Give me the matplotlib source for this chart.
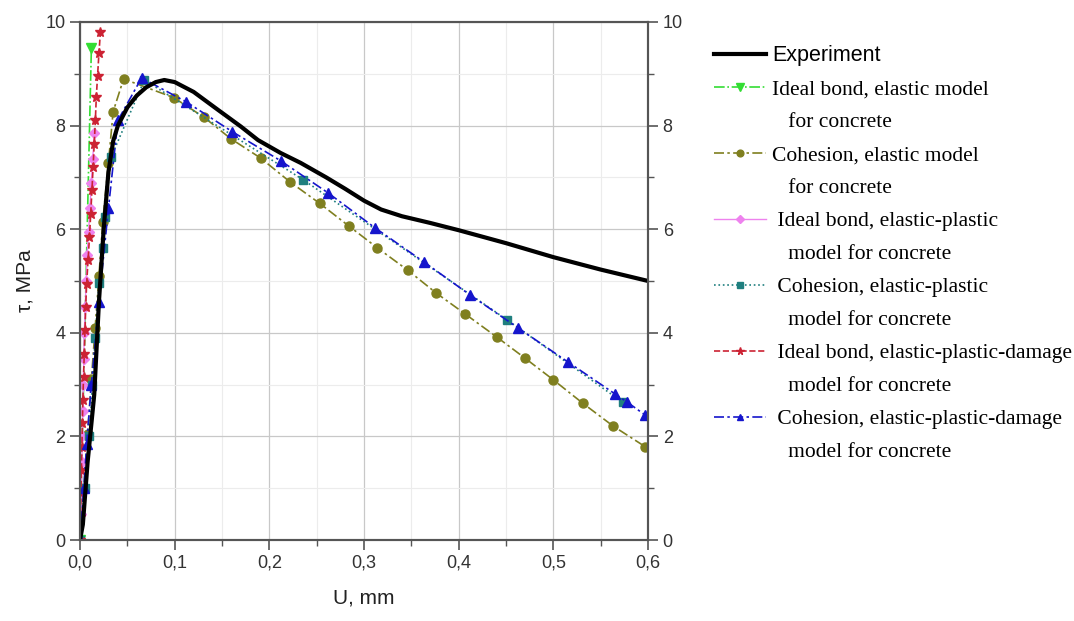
import matplotlib.pyplot as plt
from matplotlib.lines import Line2D
from matplotlib.ticker import MultipleLocator

plt.rcParams['font.family'] = ['Liberation Sans', 'DejaVu Sans']

# Experiment
u_exp = [0, 0.003, 0.008, 0.015, 0.02, 0.025, 0.03, 0.035, 0.04, 0.05, 0.06, 0.07, 0.08, 0.089,
         0.1, 0.12, 0.146, 0.17, 0.188, 0.212, 0.233, 0.26, 0.28, 0.3, 0.318, 0.34, 0.37, 0.4,
         0.45, 0.5, 0.55, 0.6]
t_exp = [0, 0.3, 1.5, 2.8, 4.6, 6.0, 7.1, 7.7, 8.0, 8.35, 8.58, 8.74, 8.84, 8.88,
         8.84, 8.65, 8.3, 7.98, 7.72, 7.47, 7.28, 7.0, 6.78, 6.55, 6.38, 6.25, 6.12, 5.98,
         5.73, 5.46, 5.22, 5.0]

# Ideal bond, elastic
u_ib_el = [0, 0.012]
t_ib_el = [0, 9.5]

# Cohesion, elastic
u_co_el = [0, 0.004, 0.008, 0.012, 0.016, 0.020, 0.024, 0.030, 0.035, 0.046, 0.099, 0.131, 0.159,
           0.191, 0.222, 0.253, 0.284, 0.314, 0.346, 0.376, 0.407, 0.44, 0.47, 0.5, 0.531, 0.563, 0.597]
t_co_el = [0, 1.0, 2.05, 3.1, 4.1, 5.1, 6.14, 7.28, 8.27, 8.9, 8.54, 8.16, 7.75,
           7.37, 6.91, 6.5, 6.06, 5.64, 5.21, 4.77, 4.36, 3.92, 3.51, 3.09, 2.64, 2.2, 1.8]

# Ideal bond, elastic-plastic
u_ib_pl = [0, 0.0008, 0.0015, 0.002, 0.0025, 0.003, 0.0035, 0.004, 0.0045, 0.0055, 0.0065,
           0.0075, 0.009, 0.0105, 0.012, 0.0135, 0.015]
t_ib_pl = [0, 0.5, 1.0, 1.5, 2.0, 2.5, 3.0, 3.5, 4.0, 4.5, 5.0, 5.5, 5.95, 6.4, 6.9, 7.35, 7.85]

# Cohesion, elastic-plastic
u_co_pl = [0, 0.005, 0.01, 0.013, 0.016, 0.02, 0.024, 0.026, 0.033, 0.068, 0.236, 0.451, 0.573]
t_co_pl = [0, 1.0, 2.0, 3.0, 3.9, 4.96, 5.64, 6.24, 7.4, 8.88, 6.95, 4.25, 2.66]

# Ideal bond, elastic-plastic-damage
u_ib_dm = [0, 0.0005, 0.001, 0.0015, 0.002, 0.0025, 0.003, 0.0037, 0.0045, 0.0053, 0.006,
           0.007, 0.0085, 0.01, 0.0113, 0.0126, 0.0138, 0.015, 0.0162, 0.0172, 0.0185, 0.02, 0.0215]
t_ib_dm = [0, 0.45, 0.9, 1.35, 1.8, 2.25, 2.7, 3.15, 3.6, 4.05, 4.5, 4.95, 5.4, 5.85, 6.3,
           6.75, 7.2, 7.65, 8.1, 8.55, 8.95, 9.4, 9.8]

# Cohesion, elastic-plastic-damage
u_co_dm = [0, 0.004, 0.007, 0.012, 0.02, 0.03, 0.04, 0.065, 0.112, 0.161, 0.212, 0.262, 0.312,
           0.363, 0.412, 0.463, 0.515, 0.565, 0.578, 0.597]
t_co_dm = [0, 1.0, 1.85, 3.0, 4.6, 6.4, 8.1, 8.92, 8.46, 7.88, 7.32, 6.7, 6.02,
           5.37, 4.73, 4.09, 3.44, 2.82, 2.66, 2.41]

legend_lines = [
    ('Ideal bond, elastic model', 'for concrete'),
    ('Cohesion, elastic model', 'for concrete'),
    (' Ideal bond, elastic-plastic', 'model for concrete'),
    (' Cohesion, elastic-plastic', 'model for concrete'),
    (' Ideal bond, elastic-plastic-damage', 'model for concrete'),
    (' Cohesion, elastic-plastic-damage', 'model for concrete'),
]

fig = plt.figure(figsize=(10.74, 6.21), dpi=100)
ax = fig.add_axes([0.0745, 0.1304, 0.529, 0.8342])

h_ib_el, = ax.plot(u_ib_el, t_ib_el, color='#33dd33', ls='-.', lw=1.2, marker='v', ms=7)
h_co_el, = ax.plot(u_co_el, t_co_el, color='#7f7f1f', ls=(0, (6, 2, 1.5, 2)), lw=1.2, marker='o', ms=6.5)
h_ib_pl, = ax.plot(u_ib_pl, t_ib_pl, color='#ee82ee', ls='-', lw=1.0, marker='D', ms=5.5)
h_co_pl, = ax.plot(u_co_pl, t_co_pl, color='#1f7f7f', ls=':', lw=1.2, marker='s', ms=5.5)
h_ib_dm, = ax.plot(u_ib_dm, t_ib_dm, color='#cc2233', ls='--', lw=1.2, marker='*', ms=7.5)
h_co_dm, = ax.plot(u_co_dm, t_co_dm, color='#1515cc', ls=(0, (6, 2, 1.5, 2)), lw=1.2, marker='^', ms=6.5)
h_exp, = ax.plot(u_exp, t_exp, color='black', lw=3, zorder=5)

ax.set_xlim(0, 0.6)
ax.set_ylim(0, 10)
ax.xaxis.set_major_locator(MultipleLocator(0.1))
ax.xaxis.set_minor_locator(MultipleLocator(0.05))
ax.yaxis.set_major_locator(MultipleLocator(2))
ax.yaxis.set_minor_locator(MultipleLocator(1))
ax.grid(True, which='major', color='#c8c8c8', lw=0.9)
ax.grid(True, which='minor', color='#ececec', lw=0.8)
ax.set_axisbelow(True)

ax.set_xticklabels([f'{v:.1f}'.replace('.', ',') for v in ax.get_xticks()])
for s in ax.spines.values():
    s.set_color('#555555')
    s.set_linewidth(1.5)
ax.tick_params(which='major', length=7, width=1.2, colors='#555555', labelsize=13, labelcolor='#333333')
ax.tick_params(which='minor', length=4, width=1.0, colors='#555555')

ax2 = ax.twinx()
ax2.set_ylim(0, 10)
ax2.yaxis.set_major_locator(MultipleLocator(2))
ax2.yaxis.set_minor_locator(MultipleLocator(1))
ax2.tick_params(which='major', length=7, width=1.2, colors='#555555', labelsize=13, labelcolor='#333333')
ax2.tick_params(which='minor', length=4, width=1.0, colors='#555555')
for s in ax2.spines.values():
    s.set_color('#555555')
    s.set_linewidth(1.5)

ax.set_xlabel('U, mm', fontsize=15, color='#222222', labelpad=12)
ax.set_ylabel('τ, MPa', fontsize=15, color='#222222', labelpad=8)

# legend: one row per text line, continuation rows get an empty handle
blank = Line2D([], [], color='none')
handles = [h_exp]
labels = ['Experiment']
for h, (first, second) in zip([h_ib_el, h_co_el, h_ib_pl, h_co_pl, h_ib_dm, h_co_dm], legend_lines):
    handles += [h, blank]
    labels += [first, '   ' + second]
leg = fig.legend(handles, labels, loc='upper left', bbox_to_anchor=(0.647, 0.958), frameon=False,
                 prop={'family': 'Liberation Serif', 'size': 15.5}, handlelength=2.4,
                 labelspacing=0.6, markerscale=0.75, handletextpad=0.3)
leg.get_texts()[0].set_family('Liberation Sans')

fig.savefig('out.png', dpi=100)
